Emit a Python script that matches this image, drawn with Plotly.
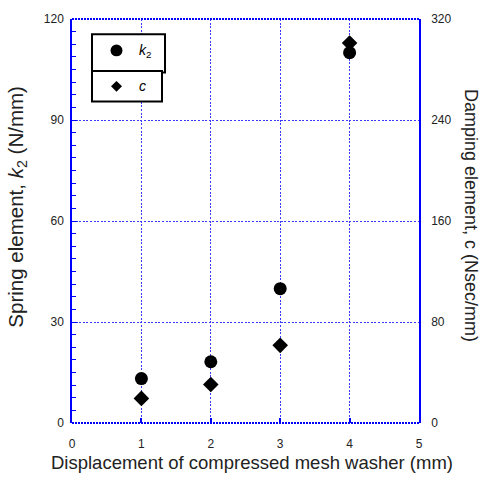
import plotly.graph_objects as go

# Measured stiffness and damping of the compressed mesh washer
displacement = [1, 2, 3, 4]                 # mm
spring_k2 = [13.2, 18.2, 39.9, 110.0]       # N/mm
damping_c = [19.5, 30.5, 61.5, 301.0]       # Nsec/mm

x_ticks = [0, 1, 2, 3, 4, 5]
k2_ticks = [0, 30, 60, 90, 120]
c_ticks = [0, 80, 160, 240, 320]

BLUE = "#0000ff"
GRID = "#3a3aff"
GRID_DASH = "2px,1.6px"
FONT = "Liberation Sans, Arial, sans-serif"
TXT = "#222222"

fig = go.Figure()

fig.add_trace(go.Scatter(
    x=displacement, y=spring_k2, mode="markers", name="k2",
    marker=dict(symbol="circle", size=13, color="black"),
    yaxis="y", showlegend=False,
))
fig.add_trace(go.Scatter(
    x=displacement, y=damping_c, mode="markers", name="c",
    marker=dict(symbol="diamond", size=12, color="black"),
    yaxis="y2", showlegend=False,
))

fig.update_layout(
    width=487, height=488,
    margin=dict(l=72, r=68, t=12, b=65),
    paper_bgcolor="white", plot_bgcolor="white",
    font=dict(family=FONT, color=TXT, size=12),
    xaxis=dict(
        range=[0, 5], tickvals=x_ticks, ticktext=[str(v) for v in x_ticks],
        showgrid=True, gridcolor=GRID, gridwidth=1.3, griddash=GRID_DASH,
        zeroline=False, showline=False,
        ticks="inside", ticklen=5, tickcolor=BLUE, tickwidth=1.5,
        ticklabelstandoff=12, tickfont=dict(size=12, color=TXT),
    ),
    yaxis=dict(
        range=[0, 120], tickvals=k2_ticks,
        showgrid=True, gridcolor=GRID, gridwidth=1.3, griddash=GRID_DASH,
        zeroline=False, showline=True, linecolor=BLUE, linewidth=1.5,
        ticks="inside", ticklen=5, tickcolor=BLUE, tickwidth=1.2,
        minor=dict(dtick=3.75, ticks="inside", ticklen=4, tickcolor=BLUE,
                   tickwidth=1, showgrid=False),
        ticklabelstandoff=4, tickfont=dict(size=12, color=TXT),
    ),
    yaxis2=dict(
        range=[0, 320], tickvals=c_ticks, overlaying="y", side="right",
        showgrid=False, zeroline=False, showline=True, linecolor=BLUE,
        linewidth=1.5, ticks="", ticklabelstandoff=8,
        tickfont=dict(size=12, color=TXT),
    ),
    showlegend=False,
)

# Dotted top and bottom frame lines
for yy in (0, 1):
    fig.add_shape(type="line", xref="paper", yref="paper",
                  x0=0, x1=1, y0=yy, y1=yy,
                  line=dict(color=BLUE, width=2, dash="2px,1px"))

# Axis titles
fig.add_annotation(
    text="Displacement of compressed mesh washer (mm)",
    xref="paper", yref="paper", x=0.52, y=-0.098, yanchor="middle",
    showarrow=False, font=dict(size=18.5, color=TXT, family=FONT),
)
fig.add_annotation(
    text="Spring element, <i>k</i><sub>2</sub> (N/mm)",
    xref="paper", yref="paper", x=-0.158, y=0.536, xanchor="center",
    yanchor="middle", textangle=-90, showarrow=False,
    font=dict(size=20.5, color=TXT, family=FONT),
)
fig.add_annotation(
    text="Damping element, c (Nsec/mm)",
    xref="paper", yref="paper", x=1.152, y=0.513, xanchor="center",
    yanchor="middle", textangle=90, showarrow=False,
    font=dict(size=18, color=TXT, family=FONT),
)

# Boxed key
W, H = 347.0, 411.0  # plot area size in px


def px(xp, yp):
    return (xp - 72) / W, (423 - yp) / H


def box(xa, ya, xb, yb):
    x0, y0 = px(xa, ya)
    x1, y1 = px(xb, yb)
    fig.add_shape(type="rect", xref="paper", yref="paper",
                  x0=x0, x1=x1, y0=y0, y1=y1,
                  line=dict(color="black", width=2), fillcolor="white")


box(92, 27.5, 165, 66.5)
box(92, 65, 162, 96)

# key symbol: filled circle
cx, cy, r = 116.5, 44.0, 6.0
x0, y0 = px(cx - r, cy + r)
x1, y1 = px(cx + r, cy - r)
fig.add_shape(type="circle", xref="paper", yref="paper",
              x0=x0, x1=x1, y0=y0, y1=y1,
              line=dict(color="black", width=0), fillcolor="black")

# key symbol: filled diamond
dx, dy, d = 116.5, 80.5, 5.5
pts = [px(dx, dy - d), px(dx + d, dy), px(dx, dy + d), px(dx - d, dy)]
path = "M " + " L ".join(f"{a:.5f},{b:.5f}" for a, b in pts) + " Z"
fig.add_shape(type="path", xref="paper", yref="paper", path=path,
              line=dict(color="black", width=0), fillcolor="black")

for label, yp in (("<i>k</i><sub>2</sub>", 45), ("<i>c</i>", 80.5)):
    lx, ly = px(137, yp)
    fig.add_annotation(text=label, xref="paper", yref="paper", x=lx, y=ly,
                       xanchor="left", yanchor="middle", showarrow=False,
                       font=dict(size=14, color="black", family=FONT))

fig.write_html("out.html")
